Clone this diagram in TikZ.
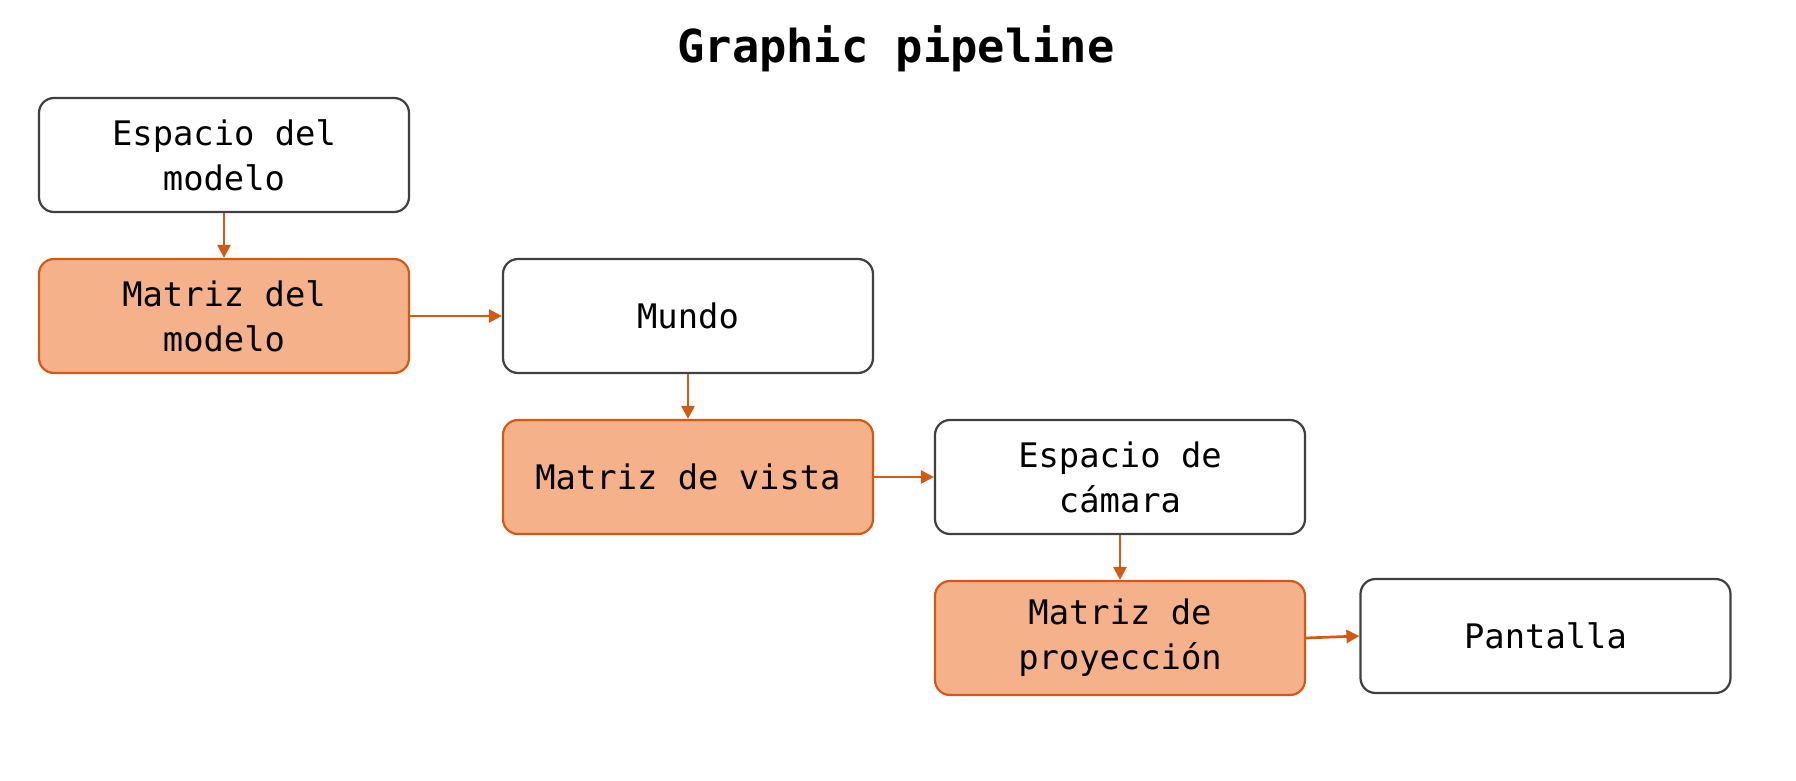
\documentclass[tikz,border=0pt]{standalone}
\usepackage{fontspec}
\setmonofont{DejaVu Sans Mono}
\usetikzlibrary{arrows.meta}
\definecolor{boxline}{HTML}{404040}
\definecolor{orfill}{HTML}{F5B28A}
\definecolor{orline}{HTML}{D25A14}
\tikzset{
  plainbox/.style={draw=boxline, line width=1.1pt, fill=white, rounded corners=7.5pt,
    minimum width=185pt, minimum height=57pt, inner sep=0pt, align=center,
    font=\ttfamily\fontsize{16.9}{22.5}\selectfont},
  orbox/.style={plainbox, draw=orline, fill=orfill},
  flow/.style={draw=orline, line width=1.35pt, -{Triangle[length=6.5pt,width=6.5pt]}}
}
\begin{document}
\begin{tikzpicture}[x=0.5pt,y=-0.5pt]
\useasboundingbox (0,0) rectangle (1796,781);
\node[anchor=base, font=\ttfamily\bfseries\fontsize{22.7}{27}\selectfont] (title) at (896,63) {Graphic pipeline};
\node[plainbox] (em) at (224,155) {Espacio del\\modelo};
\node[orbox] (mm) at (224,316) {Matriz del\\modelo};
\node[plainbox] (mu) at (688,316) {Mundo};
\node[orbox] (mv) at (688,477) {Matriz de vista};
\node[plainbox] (ec) at (1120,477) {Espacio de\\cámara};
\node[orbox] (mp) at (1120,638) {Matriz de\\proyección};
\node[plainbox] (pa) at (1545.5,636) {Pantalla};
\draw[flow] (em) -- (mm);
\draw[flow] (mm) -- (mu);
\draw[flow] (mu) -- (mv);
\draw[flow] (mv) -- (ec);
\draw[flow] (ec) -- (mp);
\draw[flow] (mp.east) -- (pa.west);
\end{tikzpicture}
\end{document}
